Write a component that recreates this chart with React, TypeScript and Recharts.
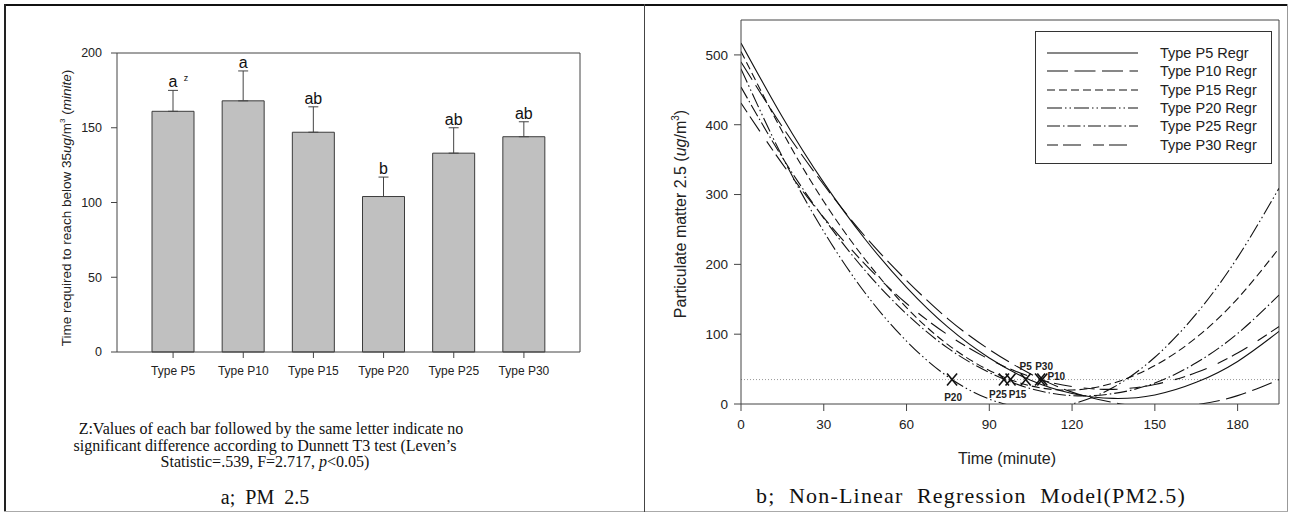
import React from 'react';
import {
  BarChart, Bar, XAxis, YAxis, ErrorBar, LabelList,
  ComposedChart, Line, ReferenceLine, ReferenceDot,
} from 'recharts';

// ---------- Panel a: bar chart data ----------
const categories = ['Type P5', 'Type P10', 'Type P15', 'Type P20', 'Type P25', 'Type P30'];
const meanTimes = [161, 168, 147, 104, 133, 144];
const stdErrors = [14, 20, 17, 13, 17, 10];
const groupLetters = ['a', 'a', 'ab', 'b', 'ab', 'ab'];
const footnoteMark = 'z';
const footnoteIndex = 0;
const barTicks = [0, 50, 100, 150, 200];

// ---------- Panel b: regression curves data ----------
const timePoints = [0, 15, 30, 45, 60, 75, 90, 105, 120, 135, 150, 165, 180, 195];
const p5Values = [517, 411, 317, 236, 167, 110, 66, 34, 15, 8, 13, 31, 61, 104];
const p10Values = [490, 397, 314, 240, 177, 122, 78, 43, 17, 2, -5, -1, 12, 35];
const p15Values = [505, 390, 290, 207, 138, 85, 48, 26, 20, 30, 55, 95, 151, 223];
const p20Values = [480, 354, 247, 159, 90, 39, 7, -6, 0, 24, 67, 129, 210, 309];
const p25Values = [454, 353, 266, 191, 129, 80, 45, 22, 12, 15, 30, 59, 101, 156];
const p30Values = [431, 344, 267, 200, 144, 99, 64, 39, 25, 21, 28, 45, 73, 111];
const seriesKeys = ['P5', 'P10', 'P15', 'P20', 'P25', 'P30'];
const seriesNames = ['Type P5 Regr', 'Type P10 Regr', 'Type P15 Regr', 'Type P20 Regr', 'Type P25 Regr', 'Type P30 Regr'];
const xTicks = [0, 30, 60, 90, 120, 150, 180];
const yTicks = [0, 100, 200, 300, 400, 500];
const thresholdValue = 35;
const crossingNames = ['P20', 'P25', 'P15', 'P5', 'P30', 'P10'];
const crossingTimes = [76.5, 95.3, 97.7, 103.2, 108.4, 109.2];

// ---------- styles ----------
const SANS = '"Liberation Sans", Arial, sans-serif';
const SERIF = '"Liberation Serif", "Times New Roman", serif';
const dashStyles: Record<string, string | undefined> = {
  P5: undefined,
  P10: '21 6.5',
  P15: '8 4',
  P20: '15 3 1.5 3 1.5 3',
  P25: '13 3 1.5 3',
  P30: '11 5 18 12',
};
const labelOffsets: Record<string, { dx: number; dy: number }> = {
  P20: { dx: 1, dy: 21 },
  P25: { dx: -6, dy: 18 },
  P15: { dx: 7, dy: 18 },
  P5: { dx: 0, dy: -10 },
  P30: { dx: 4, dy: -10 },
  P10: { dx: 14, dy: 0 },
};

const seriesValues = [p5Values, p10Values, p15Values, p20Values, p25Values, p30Values];
const barData = categories.map((name, i) => ({
  name,
  value: meanTimes[i],
  err: [0, stdErrors[i]],
  letter: groupLetters[i],
}));
const curveData = timePoints.map((t, i) => {
  const row: Record<string, number> = { t };
  seriesKeys.forEach((k, s) => { row[k] = seriesValues[s][i]; });
  return row;
});

const LetterLabel = (props: any) => {
  const { x, y, width, height, index } = props;
  const pxPerUnit = height / meanTimes[index];
  const yTop = y - stdErrors[index] * pxPerUnit;
  const cx = x + width / 2;
  return (
    <g>
      <text x={cx} y={yTop - 3} textAnchor="middle" fontSize={16} fontFamily={SANS} fill="#111">
        {groupLetters[index]}
      </text>
      {index === footnoteIndex ? (
        <text x={cx + 13} y={yTop - 9} textAnchor="middle" fontSize={9} fontFamily={SANS} fill="#111">
          {footnoteMark}
        </text>
      ) : null}
    </g>
  );
};

const makeCross = (name: string) => (props: any) => {
  const { cx, cy } = props;
  const off = labelOffsets[name];
  return (
    <g>
      <line x1={cx - 5} y1={cy - 6} x2={cx + 5} y2={cy + 6} stroke="#111" strokeWidth={1.6} />
      <line x1={cx - 5} y1={cy + 6} x2={cx + 5} y2={cy - 6} stroke="#111" strokeWidth={1.6} />
      <text x={cx + off.dx} y={cy + off.dy} textAnchor="middle" fontSize={10} fontWeight="bold" fontFamily={SANS} fill="#222">
        {name}
      </text>
    </g>
  );
};

const abs = (l: number, t: number, w: number, h: number, bg: string): React.CSSProperties => ({
  position: 'absolute', left: l, top: t, width: w, height: h, background: bg,
});

export default function App() {
  return (
    <div style={{ position: 'absolute', left: 0, top: 0, width: 1291, height: 513, background: '#fff', overflow: 'hidden' }}>
      {/* frame */}
      <div style={abs(4, 4, 1284, 2, '#111')} />
      <div style={abs(4, 4, 2, 508, '#222')} />
      <div style={abs(1287, 4, 1, 508, '#999')} />
      <div style={abs(4, 511, 1284, 1, '#aaa')} />
      <div style={abs(644, 4, 1, 508, '#444')} />

      {/* Panel a */}
      <div style={{ position: 'absolute', left: 0, top: 0 }}>
        <BarChart width={645} height={400} data={barData} margin={{ top: 23, right: 5, left: 57, bottom: 18 }}>
          <XAxis dataKey="name" padding={{ left: 21, right: 21 }} tickSize={6} tickMargin={8} interval={0}
            tick={{ fontSize: 12, fill: '#222', fontFamily: SANS }} stroke="#444" />
          <XAxis xAxisId="top" orientation="top" dataKey="name" tick={false} tickLine={false} stroke="#444" />
          <YAxis domain={[0, 200]} ticks={barTicks} tickSize={6} tickMargin={9} interval={0}
            tick={{ fontSize: 12.5, fill: '#222', fontFamily: SANS }} stroke="#444" />
          <YAxis yAxisId="right" orientation="right" type="number" domain={[0, 1]} tick={false} tickLine={false} stroke="#444" />
          <Bar dataKey="value" fill="#c0c0c0" stroke="#3c3c3c" strokeWidth={1} barSize={42} isAnimationActive={false}>
            <ErrorBar dataKey="err" direction="y" width={5} stroke="#444" strokeWidth={1} />
            <LabelList dataKey="letter" content={LetterLabel} />
          </Bar>
        </BarChart>
      </div>
      <svg style={{ position: 'absolute', left: 0, top: 0 }} width={645} height={400}>
        <text transform="rotate(-90, 71, 208)" x={71} y={208} textAnchor="middle" fontSize={13.5} fontFamily={SANS} fill="#222">
          <tspan>Time required to reach below 35</tspan>
          <tspan fontStyle="italic">ug</tspan>
          <tspan>/m</tspan>
          <tspan dy={-6} fontSize={8}>3</tspan>
          <tspan dy={6}> (</tspan>
          <tspan fontStyle="italic">minite</tspan>
          <tspan>)</tspan>
        </text>
      </svg>
      <div style={{ position: 'absolute', left: 20, top: 421, width: 490, textAlign: 'center', fontFamily: SERIF, fontSize: 16, lineHeight: '16.5px', color: '#111' }}>
        <div>&nbsp;&nbsp;&nbsp;Z:Values of each bar followed by the same letter indicate no</div>
        <div>significant difference according to Dunnett T3 test (Leven’s</div>
        <div>Statistic=.539, F=2.717, <i>p</i>&lt;0.05)</div>
      </div>
      <div style={{ position: 'absolute', left: 20, top: 487, width: 490, textAlign: 'center', fontFamily: SERIF, fontSize: 20, lineHeight: '20px', color: '#111', whiteSpace: 'pre' }}>
        {'a;  PM  2.5'}
      </div>

      {/* Panel b */}
      <div style={{ position: 'absolute', left: 645, top: 0 }}>
        <ComposedChart width={646} height={470} data={curveData} margin={{ top: 20, right: 12, left: 36, bottom: 36 }}>
          <XAxis dataKey="t" type="number" domain={[0, 195]} ticks={xTicks} allowDataOverflow tickSize={7} tickMargin={8}
            tick={{ fontSize: 13.5, fill: '#222', fontFamily: SANS }} stroke="#444" />
          <YAxis type="number" domain={[0, 550]} ticks={yTicks} allowDataOverflow tickSize={7} tickMargin={6} interval={0}
            tick={{ fontSize: 13.5, fill: '#222', fontFamily: SANS }} stroke="#444" />
          <ReferenceLine y={550} stroke="#444" />
          <ReferenceLine x={195} stroke="#444" />
          <ReferenceLine y={thresholdValue} stroke="#999" strokeDasharray="1 2" />
          {seriesKeys.map((k, i) => (
            <Line key={k} dataKey={k} name={seriesNames[i]} type="natural" stroke="#111" strokeWidth={1.1}
              strokeDasharray={dashStyles[k]} dot={false} activeDot={false} isAnimationActive={false} />
          ))}
          {crossingNames.map((n, i) => (
            <ReferenceDot key={n} x={crossingTimes[i]} y={thresholdValue} r={5} shape={makeCross(n)} />
          ))}
        </ComposedChart>
      </div>
      <svg style={{ position: 'absolute', left: 645, top: 0 }} width={646} height={470}>
        <text transform="rotate(-90, 41, 214)" x={41} y={214} textAnchor="middle" fontSize={16} fontFamily={SANS} fill="#222">
          <tspan>Particulate matter 2.5 (</tspan>
          <tspan fontStyle="italic">ug</tspan>
          <tspan>/m</tspan>
          <tspan dy={-7} fontSize={10}>3</tspan>
          <tspan dy={7}>)</tspan>
        </text>
        <text x={362} y={464} textAnchor="middle" fontSize={16} fontFamily={SANS} fill="#222">Time (minute)</text>
      </svg>
      {/* legend */}
      <div style={{ position: 'absolute', left: 1035, top: 31, width: 235, height: 131, border: '1px solid #333', background: '#fff' }}>
        <svg width={235} height={131}>
          {seriesKeys.map((k, i) => {
            const y = [21, 39, 58, 76, 94, 113][i];
            return (
              <g key={k}>
                <line x1={11} x2={102} y1={y} y2={y} stroke="#111" strokeWidth={1.1} strokeDasharray={dashStyles[k]} />
                <text x={124} y={y + 5} fontSize={14.5} fontFamily={SANS} fill="#222">{seriesNames[i]}</text>
              </g>
            );
          })}
        </svg>
      </div>
      <div style={{ position: 'absolute', left: 671, top: 485, width: 600, textAlign: 'center', fontFamily: SERIF, fontSize: 22, lineHeight: '22px', letterSpacing: '1.2px', color: '#111', whiteSpace: 'pre' }}>
        {'b;  Non-Linear  Regression  Model(PM2.5)'}
      </div>
    </div>
  );
}
